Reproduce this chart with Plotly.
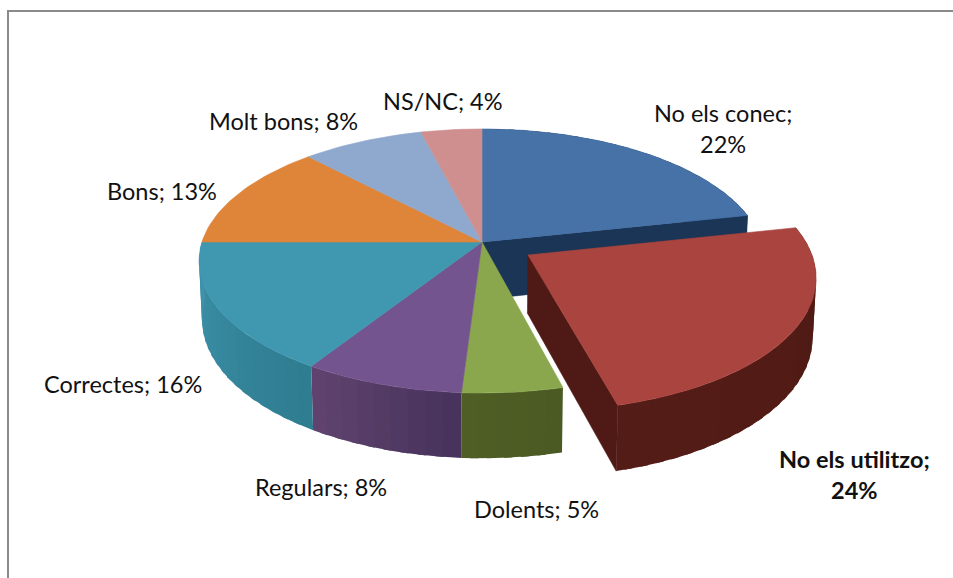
import math
import plotly.graph_objects as go

# ---- data ----
categories = ["No els conec", "No els utilitzo", "Dolents", "Regulars",
              "Correctes", "Bons", "Molt bons", "NS/NC"]
values = [21.6, 24.4, 5, 8, 16, 13, 8, 4]
top_colors = ["#4672A8", "#A9443F", "#8AA74E", "#74548F",
              "#4097B0", "#DE853A", "#8FA8CE", "#CF8F8F"]
side_start = ["#1A3555", "#4F1A15", "#4A5A22", "#46325A",
              "#2E7C90", "#A0602A", "#66789A", "#966868"]
side_end = ["#1A3555", "#541C16", "#4E5E25", "#60446F",
            "#3F93AB", "#A0602A", "#66789A", "#966868"]
pulled = "No els utilitzo"
pull_amount = 0.19
label_xy = {"No els conec": (723, 128), "No els utilitzo": (854, 474), "Dolents": (536, 509),
            "Regulars": (321, 487), "Correctes": (123, 384), "Bons": (162, 191),
            "Molt bons": (283, 121), "NS/NC": (443, 101)}
label_wrap = {"No els conec", "No els utilitzo"}

# ---- projection of the pie plane on to the axes ----
CX, CY, A, B, K, Q, C = 482, 242, 280, 129.3, 0.144, 0.01, 58


def project(u, v, h=0.0):
    d = 1 - K * v + Q * h
    return CX + A * u / d, CY + (B * v + C * h) / d


def rim(deg, ou=0.0, ov=0.0):
    r = math.radians(deg)
    return math.sin(r) + ou, -math.cos(r) + ov


def blend(c1, c2, t):
    a = [int(c1[i:i + 2], 16) for i in (1, 3, 5)]
    b = [int(c2[i:i + 2], 16) for i in (1, 3, 5)]
    return "#%02X%02X%02X" % tuple(round(x + (y - x) * t) for x, y in zip(a, b))


fig = go.Figure()


def poly(pts, color, lw=0.6):
    xs = [p[0] for p in pts] + [pts[0][0]]
    ys = [p[1] for p in pts] + [pts[0][1]]
    fig.add_trace(go.Scatter(x=xs, y=ys, mode="lines", fill="toself", fillcolor=color,
                             line=dict(color=color, width=lw), hoverinfo="skip",
                             showlegend=False))


total = sum(values)
slices = []
acc = 0.0
for name, val, top, s0, s1 in zip(categories, values, top_colors, side_start, side_end):
    a0 = acc / total * 360
    acc += val
    a1 = acc / total * 360
    ou, ov = 0.0, 0.0
    if name == pulled:
        ou, ov = rim((a0 + a1) / 2)
        ou, ov = ou * pull_amount, ov * pull_amount
    slices.append(dict(name=name, a0=a0, a1=a1, ou=ou, ov=ov, top=top, s0=s0, s1=s1))


def draw_radial(s, deg):
    u, v = rim(deg, s["ou"], s["ov"])
    poly([project(s["ou"], s["ov"]), project(u, v),
          project(u, v, 1), project(s["ou"], s["ov"], 1)], s["s0"])


def draw_side(s):
    n = max(2, int((s["a1"] - s["a0"]) / 3))
    step = (s["a1"] - s["a0"]) / n
    for i in range(n):
        d0 = s["a0"] + step * i
        d1 = min(s["a1"], d0 + step + 1.5)  # overlap the next strip so no seam shows
        u0, v0 = rim(d0, s["ou"], s["ov"])
        u1, v1 = rim(d0 + step / 2, s["ou"], s["ov"])
        u2, v2 = rim(d1, s["ou"], s["ov"])
        poly([project(u0, v0), project(u1, v1), project(u2, v2),
              project(u2, v2, 1), project(u1, v1, 1), project(u0, v0, 1)],
             blend(s["s0"], s["s1"], (i + 0.5) / n), lw=0)


def draw_top(s):
    n = max(2, int((s["a1"] - s["a0"]) / 1.5))
    pts = [project(s["ou"], s["ov"])]
    for i in range(n + 1):
        d = s["a0"] + (s["a1"] - s["a0"]) * i / n
        pts.append(project(*rim(d, s["ou"], s["ov"])))
    poly(pts, s["top"])


rest = [s for s in slices if s["name"] != pulled]
out = [s for s in slices if s["name"] == pulled]

draw_radial(slices[0], slices[0]["a1"])
for s in rest:
    if s["a1"] < 280:
        draw_side(s)
for s in rest:
    draw_top(s)
for s in out:
    draw_side(s)
    draw_radial(s, s["a1"])
    draw_top(s)

annotations = []
for name, val in zip(categories, values):
    sep = ";<br>" if name in label_wrap else "; "
    text = f"{name}{sep}{round(val)}%"
    if name == pulled:
        text = f"<b>{name}{sep}{round(val)}%</b>"
    x, y = label_xy[name]
    annotations.append(dict(x=x, y=y, xref="x", yref="y", text=text, showarrow=False,
                            xanchor="center", yanchor="middle", align="center",
                            font=dict(family="Lato", size=23.5, color="#111111")))

frame = dict(color="#8A8A8A", width=2)
fig.update_layout(
    width=953, height=578, margin=dict(l=0, r=0, t=0, b=0),
    paper_bgcolor="white", plot_bgcolor="white", showlegend=False,
    xaxis=dict(range=[0, 953], visible=False, fixedrange=True),
    yaxis=dict(range=[578, 0], visible=False, fixedrange=True),
    annotations=annotations,
    shapes=[
        dict(type="line", xref="x", yref="y", x0=7, x1=953, y0=11, y1=11, line=frame),
        dict(type="line", xref="x", yref="y", x0=8, x1=8, y0=10, y1=578, line=frame),
    ],
)
fig.write_html("out.html", config={"displayModeBar": False},
               post_script="document.body.style.margin='0';document.body.style.overflow='hidden';")
